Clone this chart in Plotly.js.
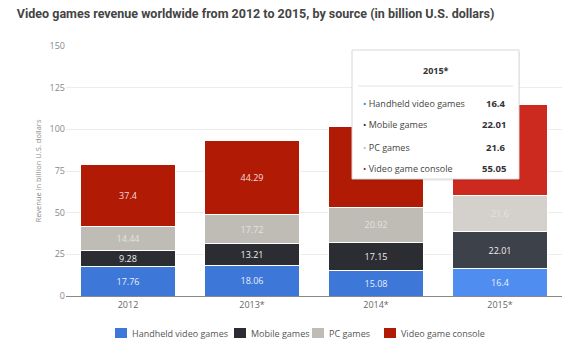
<!DOCTYPE html>
<html>
<head>
<meta charset="utf-8">
<script src="https://cdn.plot.ly/plotly-3.0.1.min.js"></script>
<style>html,body{margin:0;padding:0;background:#fff}#chart{width:580px;height:350px}</style>
</head>
<body>
<div id="chart"></div>
<script>
const years = ["2012", "2013*", "2014*", "2015*"];
const seriesNames = ["Handheld video games", "Mobile games", "PC games", "Video game console"];
const handheld = [17.76, 18.06, 15.08, 16.4];
const mobile = [9.28, 13.21, 17.15, 22.01];
const pc = [14.44, 17.72, 20.92, 21.6];
const consoleRev = [37.4, 44.29, 48.3, 55.05];
const yTicks = [0, 25, 50, 75, 100, 125, 150];
const highlightIndex = 3;

const allSeries = [handheld, mobile, pc, consoleRev];
const baseColors = ["#3d78d8", "#2b2d32", "#bfbcb6", "#b11a05"];
const hiColors = ["#4f8ef0", "#3d4149", "#d4d1cc", "#cc2a1e"];
const textColors = ["#e8eefa", "#f0f0f0", "#e4e2de", "#f2dcd8"];

// labels covered by the tooltip box in the reference are not shown
const coveredByTooltip = (s, i) => s === 3 && i >= 2;

const traces = allSeries.map((vals, s) => ({
  type: "bar",
  name: seriesNames[s],
  x: years,
  y: vals,
  text: vals.map((v, i) => coveredByTooltip(s, i) ? "" : String(v)),
  textposition: "inside",
  insidetextanchor: "middle",
  constraintext: "none",
  textangle: 0,
  textfont: {family: "Open Sans, sans-serif", size: 9, color: textColors[s]},
  marker: {
    color: years.map((_, i) => i === highlightIndex ? hiColors[s] : baseColors[s]),
    line: {color: "#ffffff", width: 1}
  },
  showlegend: false,
  hoverinfo: "none"
}));

const W = 580, H = 350, ml = 66, mr = 18, mt = 46, mb = 54;
const pw = W - ml - mr, ph = H - mt - mb;
const px = x => (x - ml) / pw;
const py = y => (H - mb - y) / ph;

const annotations = [];
const shapes = [];
// tooltip box
const bx0 = 352, bx1 = 519, by0 = 50, by1 = 179;
shapes.push({type: "rect", xref: "paper", yref: "paper", x0: px(bx0 + 1), x1: px(bx1 + 1), y0: py(by1 + 2), y1: py(by0 + 2),
  fillcolor: "rgba(0,0,0,0.06)", line: {width: 0}, layer: "above"});
shapes.push({type: "rect", xref: "paper", yref: "paper", x0: px(bx0), x1: px(bx1), y0: py(by1), y1: py(by0),
  fillcolor: "#ffffff", line: {color: "#d8d8d8", width: 1}, layer: "above"});
shapes.push({type: "line", xref: "paper", yref: "paper", x0: px(bx0 + 6), x1: px(bx1 - 6), y0: py(86), y1: py(86),
  line: {color: "#e4e4e4", width: 1}, layer: "above"});
annotations.push({xref: "paper", yref: "paper", x: px((bx0 + bx1) / 2), y: py(70), text: "<b>" + years[highlightIndex] + "</b>",
  showarrow: false, font: {family: "Open Sans, sans-serif", size: 9, color: "#333"}, xanchor: "center", yanchor: "middle"});
const rowY = [103, 125, 147, 168];
seriesNames.forEach((n, s) => {
  annotations.push({xref: "paper", yref: "paper", x: px(361), y: py(rowY[s]),
    text: "<span style='color:" + baseColors[s] + "'>•</span> " + n,
    showarrow: false, font: {family: "Open Sans, sans-serif", size: 9, color: "#444"}, xanchor: "left", yanchor: "middle"});
  annotations.push({xref: "paper", yref: "paper", x: px(508), y: py(rowY[s]),
    text: "<b>" + allSeries[s][highlightIndex] + "</b>",
    showarrow: false, font: {family: "Open Sans, sans-serif", size: 9.5, color: "#333"}, xanchor: "right", yanchor: "middle"});
});

// custom legend
const legX = [115, 234, 312, 384];
const legY = 333;
seriesNames.forEach((n, s) => {
  shapes.push({type: "rect", xref: "paper", yref: "paper", x0: px(legX[s]), x1: px(legX[s] + 12), y0: py(legY + 5), y1: py(legY - 5),
    fillcolor: baseColors[s], line: {width: 0}});
  annotations.push({xref: "paper", yref: "paper", x: px(legX[s] + 15), y: py(legY), text: n,
    showarrow: false, font: {family: "Open Sans, sans-serif", size: 9, color: "#555"}, xanchor: "left", yanchor: "middle"});
});

const layout = {
  width: W, height: H,
  margin: {l: ml, r: mr, t: mt, b: mb},
  paper_bgcolor: "#ffffff", plot_bgcolor: "#ffffff",
  barmode: "stack", bargap: 0.23,
  showlegend: false,
  title: {text: "<b>Video games revenue worldwide from 2012 to 2015, by source (in billion U.S. dollars)</b>",
    x: 0.029, xanchor: "left", y: 0.96, yanchor: "middle",
    font: {family: "Roboto, sans-serif", size: 12.5, color: "#444"}},
  xaxis: {type: "category", tickfont: {family: "Open Sans, sans-serif", size: 9, color: "#666"},
    showline: true, linecolor: "#888", linewidth: 1, ticks: "", showgrid: false, fixedrange: true, automargin: false},
  yaxis: {range: [0, 150], tickvals: yTicks, ticktext: yTicks.map(String), automargin: false,
    tickfont: {family: "Open Sans, sans-serif", size: 9, color: "#888"},
    showgrid: true, gridcolor: "#ececec", zeroline: false, ticks: "", ticklen: 0,
    title: {text: "Revenue in billion U.S. dollars", font: {family: "Open Sans, sans-serif", size: 7.5, color: "#888"}, standoff: 6}},
  annotations: annotations,
  shapes: shapes
};

Plotly.newPlot("chart", traces, layout, {displayModeBar: false, staticPlot: true});
</script>
</body>
</html>
